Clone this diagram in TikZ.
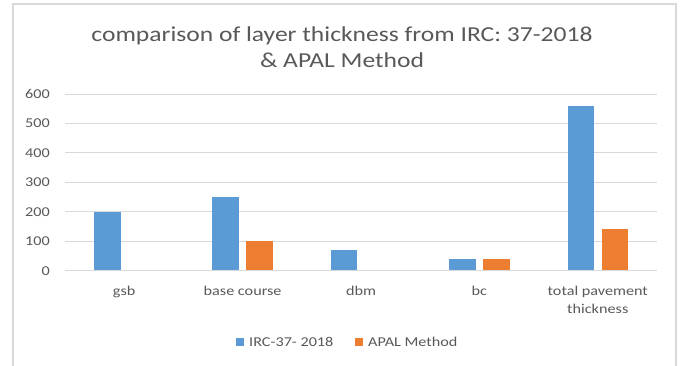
\documentclass[tikz,border=0pt]{standalone}
\usepackage{fontspec}
\setmainfont{Carlito}[FakeStretch=1.2]
\definecolor{blueb}{HTML}{5B9BD5}
\definecolor{orangeb}{HTML}{ED7D31}
\definecolor{txt}{HTML}{595959}
\definecolor{gridc}{HTML}{D9D9D9}
\begin{document}
\begin{tikzpicture}[x=1pt,y=-1pt,
  ticklbl/.style={anchor=east,inner sep=0pt,text=txt,font=\fontsize{13.5}{16}\selectfont},
  catlbl/.style={anchor=base,inner sep=0pt,text=txt,align=center,font=\fontsize{13.5}{18}\selectfont},
  leglbl/.style={anchor=base west,inner sep=0pt,text=txt,font=\fontsize{13.5}{16}\selectfont},
  gridline/.style={draw=gridc,line width=1pt}]
\useasboundingbox (0,0) rectangle (681,365);
\fill[white] (0,0) rectangle (681,365);
\draw[gridc,line width=1.2pt] (13,366) -- (13,4) -- (676,4) -- (676,366);
% title (base anchor = baseline of last line)
\node[anchor=base,inner sep=0pt,text=txt,align=center,font=\fontsize{21.3}{26}\selectfont] (title) at (342,67) {comparison of layer thickness from IRC: 37-2018\\ \& APAL Method};
% grid and ticks
\foreach \v [evaluate=\v as \yy using 270.7-\v*29.45] in {0,...,6}{
  \draw[gridline] (65,\yy) -- (657,\yy);
  \pgfmathtruncatemacro{\lab}{\v*100}
  \node[ticklbl] (tick\v) at (50,\yy) {\lab};
}
% bars
\foreach \b/\o/\ly/\lbl [count=\i, evaluate=\i as \cx using 65+(\i-0.5)*118.4] in
  {200/0/295/gsb, 250/100/295/base course, 70/0/295/dbm, 40/40/295/bc, 560/140/313/{total pavement\\thickness}}{
  \fill[blueb] ({\cx-30.3},270.7) rectangle ({\cx-3.7},{270.7-\b*0.2945});
  \ifnum\o>0
    \fill[orangeb] ({\cx+3.7},270.7) rectangle ({\cx+30.3},{270.7-\o*0.2945});
  \fi
  \node[catlbl] (cat\i) at (\cx,\ly) {\lbl};
}
\draw[gridline] (65,270.7) -- (657,270.7);
% legend
\fill[blueb] (236,338) rectangle (244,346);
\node[leglbl] (leg1) at (249,346.5) {IRC-37- 2018};
\fill[orangeb] (355,338) rectangle (363,346);
\node[leglbl] (leg2) at (368,346.5) {APAL Method};
\end{tikzpicture}
\end{document}
